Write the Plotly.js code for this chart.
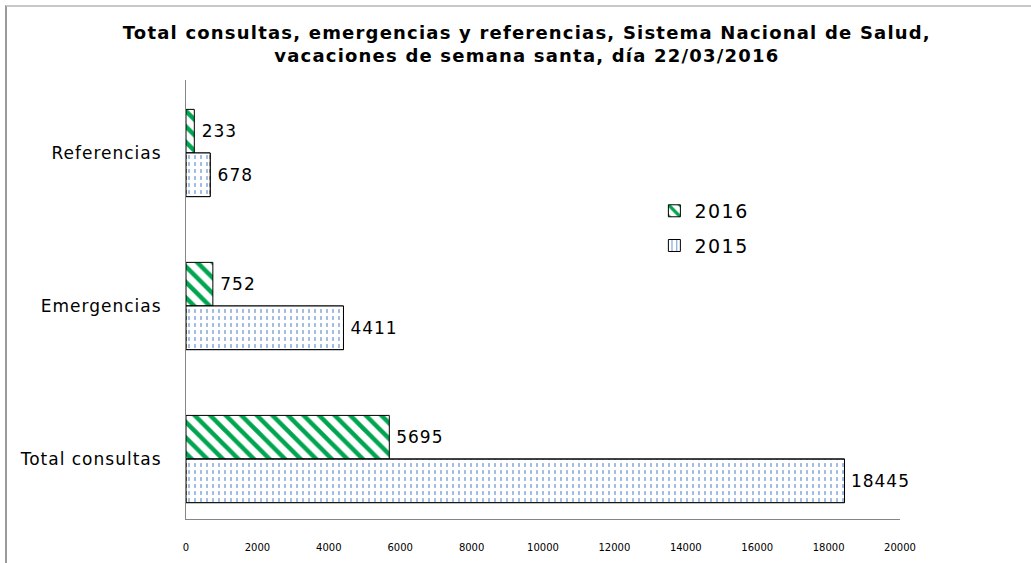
<!DOCTYPE html>
<html><head><meta charset="utf-8">
<script src="https://cdn.plot.ly/plotly-3.0.1.min.js"></script>
<style>
html,body{margin:0;padding:0;background:#fff;}
#wrap{position:relative;width:1031px;height:563px;}
#chart{width:1031px;height:563px;}
#frame{position:absolute;left:5px;top:5px;right:0;bottom:0;border-left:2px solid #9a9a9a;border-top:2px solid #c8c8c8;pointer-events:none;}
#chart .ytick text, #chart .bartext text, #chart text.bartext {letter-spacing:1px;}
#chart .legendtext {letter-spacing:1.5px;}
#chart .gtitle {letter-spacing:1.2px;}
</style></head>
<body><div id="wrap"><div id="chart"></div><div id="frame"></div></div>
<script>
var categories = ["Total consultas", "Emergencias", "Referencias"];
var values2015 = [18445, 4411, 678];
var values2016 = [5695, 752, 233];
var seriesNames = ["2015", "2016"];
var xTicks = [0,2000,4000,6000,8000,10000,12000,14000,16000,18000,20000];

var barW = 0.285;
var labelFont = {family: 'DejaVu Sans', size: 17, color: '#000'};
var t2016 = {
  type: 'bar', orientation: 'h', name: seriesNames[1], legendgroup: 'g16',
  y: categories, x: values2016, width: barW, offset: 0,
  text: values2016.map(function(v){return '\u00a0' + v;}), textposition: 'outside', cliponaxis: false,
  textfont: labelFont,
  marker: {color: '#ffffff', line: {color: '#000', width: 1},
    pattern: {shape: '\\', fgcolor: '#00a550', bgcolor: '#ffffff', size: 11, solidity: 0.4}}
};
var t2015 = {
  type: 'bar', orientation: 'h', name: seriesNames[0], legendgroup: 'g15',
  y: categories, x: values2015, width: barW, offset: -barW,
  text: values2015.map(function(v){return '\u00a0' + v;}), textposition: 'outside', cliponaxis: false,
  textfont: labelFont,
  marker: {color: '#ffffff', line: {color: '#000', width: 1},
    pattern: {shape: '|', fgcolor: '#4a7fc8', bgcolor: '#ffffff', size: 6, solidity: 0.22, fgopacity: 0.8}}
};
// white horizontal cuts turning the vertical lines of the 2015 fill into short dashes
var t2015cut = {
  type: 'bar', orientation: 'h', name: seriesNames[0] + ' ', showlegend: false, hoverinfo: 'skip',
  legendgroup: 'g15',
  y: categories, x: values2015, width: barW, offset: -barW,
  marker: {color: 'rgba(0,0,0,0)', line: {color: '#000', width: 1},
    pattern: {shape: '-', fgcolor: '#ffffff', bgcolor: 'rgba(0,0,0,0)', size: 7, solidity: 0.45, fgopacity: 1}}
};

var layout = {
  width: 1031, height: 563,
  margin: {l: 186, r: 131, t: 80, b: 44},
  paper_bgcolor: '#fff', plot_bgcolor: '#fff',
  barmode: 'overlay',
  title: {text: '<b>Total consultas, emergencias y referencias, Sistema Nacional de Salud,<br>vacaciones de semana santa, día 22/03/2016</b>',
    font: {family: 'DejaVu Sans', size: 18, color: '#000'},
    x: 0.511, xanchor: 'center', y: 0.931, yanchor: 'top'},
  xaxis: {range: [0, 20000], tickvals: xTicks, ticktext: xTicks.map(String),
    showgrid: false, zeroline: false, showline: true, linecolor: '#868686', linewidth: 1,
    ticks: '', tickfont: {family: 'DejaVu Sans', size: 10, color: '#000'}, ticklabelstandoff: 19, fixedrange: true},
  yaxis: {type: 'category', range: [-0.392, 2.477], showgrid: false, zeroline: false,
    showline: true, linecolor: '#868686', linewidth: 1, ticks: '',
    tickfont: labelFont, ticklabelstandoff: 20},
  legend: {x: 0.656, y: 0.745, xanchor: 'left', yanchor: 'top', traceorder: 'grouped',
    font: {family: 'DejaVu Sans', size: 19, color: '#000'}, bgcolor: 'rgba(0,0,0,0)', itemwidth: 30,
    tracegroupgap: 7},
  showlegend: true
};
Plotly.newPlot('chart', [t2016, t2015, t2015cut], layout, {displayModeBar: false, staticPlot: true});
</script></body></html>
